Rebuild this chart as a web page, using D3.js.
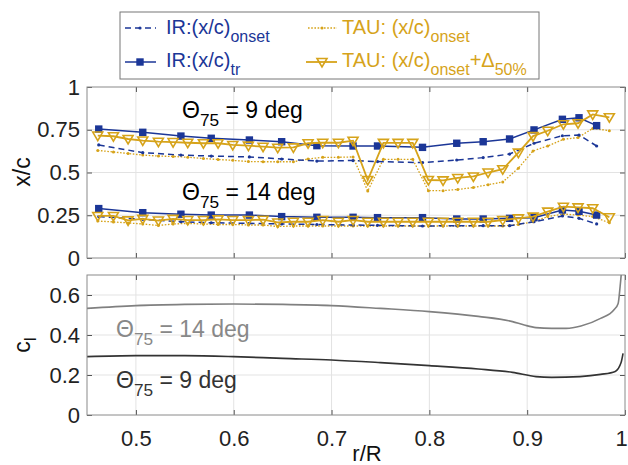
<!DOCTYPE html>
<html><head><meta charset="utf-8">
<script src="https://cdn.jsdelivr.net/npm/d3@7"></script>
<style>body{margin:0;background:#fff} svg{display:block;font-family:"Liberation Sans",Arial,Helvetica,sans-serif}</style>
</head><body><svg id="c" width="628" height="465"></svg>
<script>
// ---------- data ----------
const rIR = [0.462,0.507,0.546,0.577,0.616,0.649,0.685,0.722,0.747,0.793,0.828,0.855,0.882,0.907,0.936,0.953,0.971];
const irTr9    = [0.754,0.735,0.713,0.700,0.690,0.680,0.657,0.655,0.655,0.647,0.671,0.680,0.696,0.749,0.811,0.820,0.774];
const irOnset9 = [0.661,0.616,0.602,0.596,0.591,0.579,0.567,0.570,0.564,0.558,0.573,0.587,0.608,0.671,0.715,0.719,0.655];
const irTr14   = [0.289,0.265,0.256,0.251,0.251,0.242,0.238,0.238,0.236,0.236,0.228,0.228,0.232,0.236,0.281,0.273,0.251];
const irOnset14= [0.242,0.226,0.212,0.206,0.203,0.199,0.196,0.193,0.191,0.187,0.189,0.189,0.189,0.212,0.246,0.232,0.199];

const rTAU = [0.461,0.477,0.492,0.507,0.523,0.538,0.553,0.569,0.584,0.599,0.615,0.630,0.645,0.661,0.676,0.691,0.707,0.722,0.737,0.753,0.768,0.783,0.799,0.814,0.829,0.845,0.860,0.875,0.891,0.906,0.921,0.937,0.952,0.967,0.984];
const tauD50_9 = [0.716,0.712,0.696,0.687,0.680,0.678,0.674,0.671,0.671,0.661,0.657,0.651,0.645,0.647,0.671,0.674,0.674,0.686,0.456,0.673,0.673,0.673,0.456,0.454,0.468,0.477,0.500,0.519,0.616,0.713,0.744,0.782,0.788,0.840,0.823];
const tauOnset9 = [0.629,0.620,0.611,0.602,0.596,0.594,0.589,0.582,0.576,0.571,0.564,0.563,0.563,0.563,0.579,0.589,0.589,0.591,0.392,0.577,0.577,0.577,0.394,0.394,0.401,0.412,0.429,0.444,0.525,0.626,0.655,0.694,0.704,0.758,0.744];
const tauD50_14 = [0.246,0.246,0.220,0.229,0.219,0.229,0.222,0.222,0.226,0.222,0.222,0.224,0.208,0.212,0.212,0.222,0.212,0.222,0.212,0.212,0.212,0.212,0.212,0.212,0.212,0.212,0.212,0.222,0.232,0.242,0.271,0.300,0.296,0.291,0.238];
const tauOnset14 = [0.216,0.211,0.205,0.199,0.190,0.199,0.202,0.199,0.196,0.196,0.193,0.193,0.184,0.187,0.187,0.187,0.187,0.187,0.187,0.187,0.187,0.187,0.187,0.187,0.187,0.187,0.187,0.187,0.196,0.212,0.242,0.257,0.251,0.242,0.206];

const rCl14 = [0.45,0.5,0.55,0.6,0.65,0.7,0.75,0.8,0.85,0.885,0.897,0.909,0.925,0.94,0.955,0.975,0.989,0.993,0.995,0.997];
const cl14  = [0.533,0.547,0.553,0.555,0.553,0.547,0.533,0.517,0.493,0.467,0.450,0.437,0.433,0.433,0.445,0.483,0.528,0.558,0.642,0.750];
const rCl9  = [0.45,0.5,0.55,0.6,0.65,0.7,0.75,0.8,0.85,0.885,0.909,0.925,0.954,0.975,0.99,0.996,0.998];
const cl9   = [0.292,0.297,0.297,0.292,0.283,0.275,0.262,0.247,0.230,0.213,0.192,0.188,0.192,0.203,0.218,0.262,0.308];

const xTicks = [0.5,0.6,0.7,0.8,0.9,1];
const xTickLabels = ["0.5","0.6","0.7","0.8","0.9","1"];
const yTopTicks = [0,0.25,0.5,0.75,1];
const yTopLabels = ["0","0.25","0.5","0.75","1"];
const yBotTicks = [0,0.2,0.4,0.6];
const yBotLabels = ["0","0.2","0.4","0.6"];

// ---------- styles ----------
const BLUE = "#1b3697", GOLD = "#d6a31a";
const svg = d3.select("#c");
const x = d3.scaleLinear().domain([0.45,1]).range([87,625]);
const yTop = d3.scaleLinear().domain([0,1]).range([258,87]);
const yBot = d3.scaleLinear().domain([0,0.7]).range([415,275]);
const X0 = 87, X1 = 625;

function panel(y, yt) {
  const g = svg.append("g");
  const [yb, ytp] = y.range();
  g.append("g").selectAll("line").data(xTicks.filter(d => d < 1)).join("line")
    .attr("x1", d => x(d)).attr("x2", d => x(d)).attr("y1", yb).attr("y2", ytp)
    .attr("stroke", "#e3e3e3").attr("stroke-width", 1);
  g.append("g").selectAll("line").data(yt.filter(d => d > y.domain()[0] && d < y.domain()[1])).join("line")
    .attr("x1", X0).attr("x2", X1).attr("y1", d => y(d)).attr("y2", d => y(d))
    .attr("stroke", "#e3e3e3").attr("stroke-width", 1);
  return g;
}
function frame(y, yt, ylab, showX) {
  const [yb, ytp] = y.range();
  const ax = svg.append("g").attr("font-family", "Liberation Sans, Arial, sans-serif");
  const left = ax.append("g").attr("transform", `translate(${X0},0)`)
    .call(d3.axisLeft(y).tickValues(yt).tickFormat((d,i) => ylab[i]).tickSize(-5).tickPadding(7));
  const right = ax.append("g").attr("transform", `translate(${X1},0)`)
    .call(d3.axisRight(y).tickValues(yt).tickFormat("").tickSize(-5));
  const bottom = ax.append("g").attr("transform", `translate(0,${yb})`)
    .call(d3.axisBottom(x).tickValues(xTicks).tickFormat((d,i) => showX ? xTickLabels[i] : "").tickSize(-5).tickPadding(15));
  const top = ax.append("g").attr("transform", `translate(0,${ytp})`)
    .call(d3.axisTop(x).tickValues(xTicks).tickFormat("").tickSize(-5));
  [left,right,bottom,top].forEach(a => {
    a.select(".domain").remove();
    a.selectAll(".tick line").attr("stroke", "#555");
    a.selectAll(".tick text").attr("fill", "#222").attr("font-size", 22);
  });
  bottom.selectAll(".tick text").filter(d => d === 1).attr("dx", -4);
  svg.append("rect").attr("x", X0).attr("y", ytp).attr("width", X1 - X0).attr("height", yb - ytp)
    .attr("fill", "none").attr("stroke", "#8a8a8a").attr("stroke-width", 1);
}

function triPath() { return "M-5,-3.5L5,-3.5L0,5Z"; }

function drawSet(g, y, irTr, irOn, tauD, tauOn) {
  const lineIR = d3.line().x((d,i) => x(rIR[i])).y(d => y(d));
  const lineTAU = d3.line().x((d,i) => x(rTAU[i])).y(d => y(d));
  g.append("path").attr("d", lineTAU(tauOn)).attr("fill","none").attr("stroke",GOLD)
    .attr("stroke-width",1.3).attr("stroke-dasharray","1.6,1.6");
  g.append("g").selectAll("circle").data(tauOn).join("circle")
    .attr("cx",(d,i)=>x(rTAU[i])).attr("cy",d=>y(d)).attr("r",1.5).attr("fill",GOLD);
  g.append("path").attr("d", lineIR(irOn)).attr("fill","none").attr("stroke",BLUE)
    .attr("stroke-width",1.5).attr("stroke-dasharray","6,4");
  g.append("g").selectAll("circle").data(irOn).join("circle")
    .attr("cx",(d,i)=>x(rIR[i])).attr("cy",d=>y(d)).attr("r",1.6).attr("fill",BLUE);
  g.append("path").attr("d", lineIR(irTr)).attr("fill","none").attr("stroke",BLUE).attr("stroke-width",1.5);
  g.append("g").selectAll("rect").data(irTr).join("rect")
    .attr("x",(d,i)=>x(rIR[i])-3.7).attr("y",d=>y(d)-3.7).attr("width",7.4).attr("height",7.4).attr("fill",BLUE);
  g.append("path").attr("d", lineTAU(tauD)).attr("fill","none").attr("stroke",GOLD).attr("stroke-width",1.8);
  g.append("g").selectAll("path").data(tauD).join("path")
    .attr("d", triPath()).attr("transform",(d,i)=>`translate(${x(rTAU[i])},${y(d)})`)
    .attr("fill","none").attr("stroke",GOLD).attr("stroke-width",1.6);
}

// ---- top panel ----
const gTop = panel(yTop, yTopTicks);
drawSet(gTop, yTop, irTr9, irOnset9, tauD50_9, tauOnset9);
drawSet(gTop, yTop, irTr14, irOnset14, tauD50_14, tauOnset14);
frame(yTop, yTopTicks, yTopLabels, false);

function thetaLabel(xp, yp, rest, color, size) {
  const t = svg.append("text").attr("x", xp).attr("y", yp).attr("font-size", size).attr("fill", color);
  t.append("tspan").text("Θ");
  t.append("tspan").attr("dy", 8).attr("font-size", size * 0.75).text("75");
  t.append("tspan").attr("dy", -8).text(rest);
}
thetaLabel(182, 118, " = 9 deg", "#000", 23);
thetaLabel(182, 200, " = 14 deg", "#000", 23);

// ---- bottom panel ----
const gBot = panel(yBot, yBotTicks);
svg.append("clipPath").attr("id","clipB").append("rect").attr("x",X0).attr("y",275).attr("width",X1-X0).attr("height",140);
const clLine = (rs) => d3.line().x((d,i)=>x(rs[i])).y(d=>yBot(d)).curve(d3.curveMonotoneX);
gBot.append("path").attr("clip-path","url(#clipB)").attr("d", clLine(rCl14)(cl14)).attr("fill","none").attr("stroke","#808080").attr("stroke-width",1.6);
gBot.append("path").attr("clip-path","url(#clipB)").attr("d", clLine(rCl9)(cl9)).attr("fill","none").attr("stroke","#333").attr("stroke-width",1.6);
frame(yBot, yBotTicks, yBotLabels, true);
thetaLabel(116, 337, " = 14 deg", "#888", 23);
thetaLabel(116, 388, " = 9 deg", "#333", 23);

// axis titles
svg.append("text").attr("transform","translate(30,172) rotate(-90)").attr("text-anchor","middle")
  .attr("font-size",23).attr("fill","#111").text("x/c");
const cl = svg.append("text").attr("transform","translate(30,345) rotate(-90)").attr("text-anchor","middle")
  .attr("font-size",23).attr("fill","#111");
cl.append("tspan").text("c");
cl.append("tspan").attr("dy",6).attr("font-size",17).text("l");
svg.append("text").attr("x",367).attr("y",461).attr("text-anchor","middle").attr("font-size",22).attr("fill","#111").text("r/R");

// ---- legend ----
const lg = svg.append("g");
lg.append("rect").attr("x",120).attr("y",12).attr("width",419).attr("height",67).attr("fill","#fff").attr("stroke","#777").attr("stroke-width",1);
lg.append("line").attr("x1",125).attr("x2",156).attr("y1",28).attr("y2",28).attr("stroke",BLUE).attr("stroke-width",1.5).attr("stroke-dasharray","6,4");
lg.append("circle").attr("cx",140).attr("cy",28).attr("r",1.6).attr("fill",BLUE);
lg.append("line").attr("x1",125).attr("x2",156).attr("y1",62).attr("y2",62).attr("stroke",BLUE).attr("stroke-width",1.5);
lg.append("rect").attr("x",136.3).attr("y",58.3).attr("width",7.4).attr("height",7.4).attr("fill",BLUE);
lg.append("line").attr("x1",308).attr("x2",337).attr("y1",28).attr("y2",28).attr("stroke",GOLD).attr("stroke-width",1.3).attr("stroke-dasharray","1.6,1.6");
lg.append("circle").attr("cx",322).attr("cy",28).attr("r",1.5).attr("fill",GOLD);
lg.append("line").attr("x1",306).attr("x2",337).attr("y1",62).attr("y2",62).attr("stroke",GOLD).attr("stroke-width",1.8);
lg.append("path").attr("d",triPath()).attr("transform","translate(322,62)").attr("fill","none").attr("stroke",GOLD).attr("stroke-width",1.6);
function legText(xp, yp, color, parts) {
  const t = lg.append("text").attr("x",xp).attr("y",yp).attr("font-size",20).attr("fill",color);
  parts.forEach(p => {
    const s = t.append("tspan").text(p.t);
    if (p.dy) s.attr("dy", p.dy);
    if (p.sub) s.attr("font-size", 16);
  });
}
legText(166,34,BLUE,[{t:"IR:(x/c)"},{t:"onset",sub:true,dy:8}]);
legText(166,67,BLUE,[{t:"IR:(x/c)"},{t:"tr",sub:true,dy:8}]);
legText(342,34,GOLD,[{t:"TAU: (x/c)"},{t:"onset",sub:true,dy:8}]);
legText(342,67,GOLD,[{t:"TAU: (x/c)"},{t:"onset",sub:true,dy:8},{t:"+Δ",dy:-8},{t:"50%",sub:true,dy:8}]);
</script></body></html>
